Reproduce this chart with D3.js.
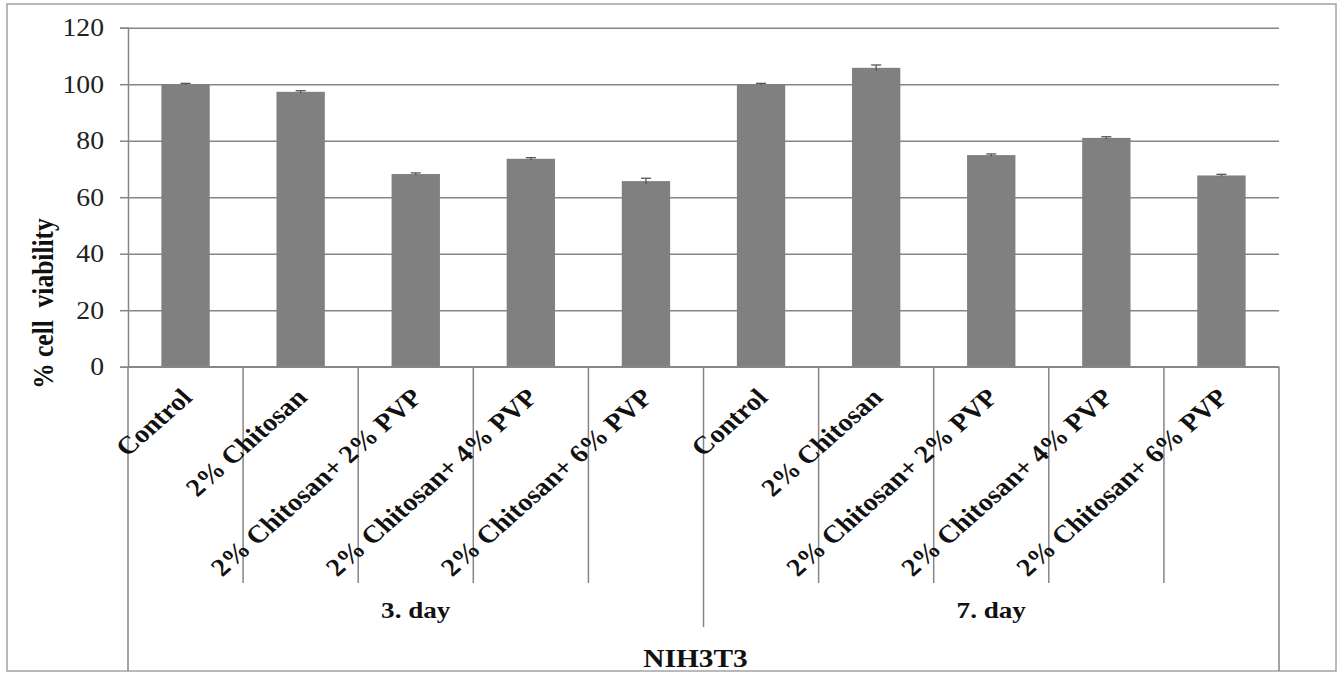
<!DOCTYPE html>
<html>
<head>
<meta charset="utf-8">
<script src="https://cdn.jsdelivr.net/npm/d3@7"></script>
<style>
  html, body { margin: 0; padding: 0; background: #fff; }
  svg { display: block; font-family: "Liberation Serif", "Times New Roman", serif; }
</style>
</head>
<body>
<svg id="chart" width="1339" height="675"></svg>
<script>
// ---- data ----
const categories = ["Control", "2% Chitosan", "2% Chitosan+ 2% PVP", "2% Chitosan+ 4% PVP", "2% Chitosan+ 6% PVP",
                    "Control", "2% Chitosan", "2% Chitosan+ 2% PVP", "2% Chitosan+ 4% PVP", "2% Chitosan+ 6% PVP"];
const groups = ["3. day", "7. day"];
const groupSize = 5;
const outerLabel = "NIH3T3";
const viability = [100, 97.3, 68.2, 73.6, 65.7, 100, 105.8, 74.9, 81.0, 67.7];
const errors = [0.3, 0.4, 0.4, 0.4, 1.0, 0.3, 1.0, 0.4, 0.4, 0.4];
const yTicks = [0, 20, 40, 60, 80, 100, 120];
const yTitle = "% cell  viability";

// ---- layout ----
const svg = d3.select("#chart");
const L = 128, R = 1279, T = 27.7, B = 366.7;
const sx = 1.13; // horizontal stretch of the original rendering
const ids = categories.map((c, i) => i);
const x = d3.scaleBand().domain(ids).range([L, R]).paddingInner(0).paddingOuter(0);
const y = d3.scaleLinear().domain([0, 120]).range([B, T]);
const gridCol = "#868686";

// outer border
svg.append("rect").attr("x", 7).attr("y", 4).attr("width", 1329).attr("height", 667)
  .attr("fill", "none").attr("stroke", "#a3a3a3").attr("stroke-width", 1.5);

// gridlines
const grid = svg.append("g").attr("transform", `translate(${L},0)`)
  .call(d3.axisLeft(y).tickValues(yTicks).tickSize(-(R - L)).tickFormat(""));
grid.select(".domain").remove();
grid.selectAll("line").attr("stroke", gridCol).attr("stroke-width", 1.5);

// y axis ticks + labels
const yAx = svg.append("g").attr("transform", `translate(${L},0)`)
  .call(d3.axisLeft(y).tickValues(yTicks).tickSize(8).tickFormat(d3.format("d")));
yAx.select(".domain").attr("stroke", gridCol).attr("stroke-width", 1.5);
yAx.selectAll("line").attr("stroke", gridCol).attr("stroke-width", 1.5);
yAx.selectAll("text")
  .attr("x", null).attr("dy", "0.33em")
  .attr("transform", `translate(-24,0) scale(${sx},1)`)
  .attr("font-size", 24.5).attr("fill", "#222").attr("font-family", "Liberation Serif");

// y title
svg.append("text")
  .attr("transform", `translate(53,${(215 + 392) / 2}) scale(${sx},1) rotate(-90)`)
  .attr("text-anchor", "middle").attr("font-size", 25.5).attr("font-weight", "bold")
  .attr("fill", "#111").style("white-space", "pre").text(yTitle);

// bars
const bw = x.bandwidth() * 0.42;
svg.append("g").selectAll("rect").data(ids).join("rect")
  .attr("x", i => x(i) + (x.bandwidth() - bw) / 2)
  .attr("y", i => y(viability[i]))
  .attr("width", bw)
  .attr("height", i => y(0) - y(viability[i]))
  .attr("fill", "#808080");

// error bars
const eb = svg.append("g").attr("stroke", "#555").attr("stroke-width", 1.3);
ids.forEach(i => {
  const cx = x(i) + x.bandwidth() / 2;
  eb.append("line").attr("x1", cx).attr("x2", cx)
    .attr("y1", y(viability[i] - errors[i])).attr("y2", y(viability[i] + errors[i]));
  eb.append("line").attr("x1", cx - 5).attr("x2", cx + 5)
    .attr("y1", y(viability[i] + errors[i])).attr("y2", y(viability[i] + errors[i]));
});

// x axis baseline
svg.append("line").attr("x1", L).attr("x2", R).attr("y1", B).attr("y2", B)
  .attr("stroke", gridCol).attr("stroke-width", 1.5);

// category dividers
const divs = d3.range(0, categories.length + 1);
svg.append("g").selectAll("line").data(divs).join("line")
  .attr("x1", k => k < categories.length ? x(k) : R)
  .attr("x2", k => k < categories.length ? x(k) : R)
  .attr("y1", B)
  .attr("y2", k => (k === 0 || k === categories.length) ? 671 : (k % groupSize === 0 ? 627 : 583))
  .attr("stroke", gridCol).attr("stroke-width", 1.5);

// category labels
svg.append("g").selectAll("text").data(ids).join("text")
  .attr("transform", i => `translate(${x(i) + x.bandwidth() / 2 + 8},399) scale(${sx},1) rotate(-45)`)
  .attr("text-anchor", "end").attr("font-size", 25).attr("font-weight", "bold")
  .attr("fill", "#111").text(i => categories[i]);

// group labels
svg.append("g").selectAll("text").data(groups).join("text")
  .attr("transform", (g, gi) => {
    const c = (x(gi * groupSize) + (gi * groupSize + groupSize < categories.length ? x(gi * groupSize + groupSize) : R)) / 2;
    return `translate(${c},618) scale(${sx},1)`;
  })
  .attr("text-anchor", "middle").attr("font-size", 24).attr("font-weight", "bold")
  .attr("fill", "#111").text(g => g);

// outer label
svg.append("text")
  .attr("transform", `translate(${(L + R) / 2 - 8},667) scale(${sx},1)`)
  .attr("text-anchor", "middle").attr("font-size", 26).attr("font-weight", "bold")
  .attr("fill", "#111").text(outerLabel);
</script>
</body>
</html>
